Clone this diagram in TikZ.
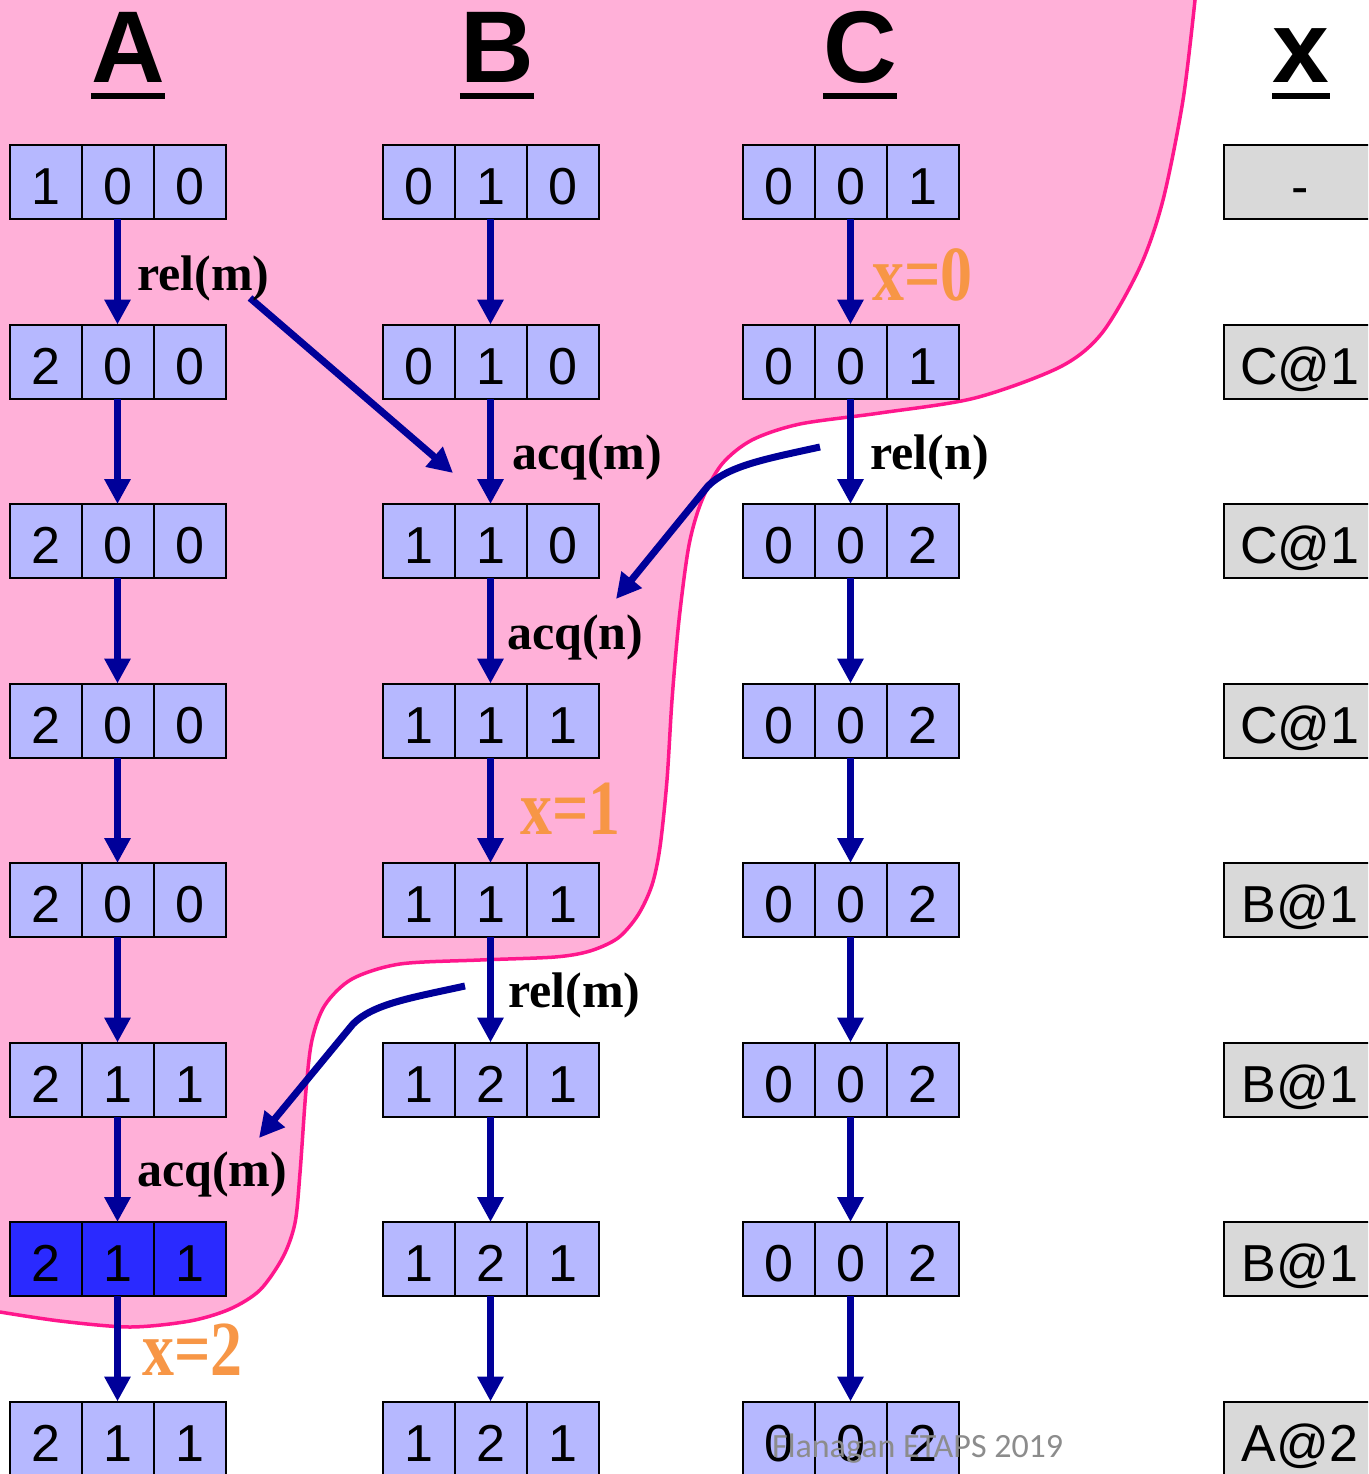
\documentclass[tikz,border=0pt]{standalone}
\usepackage{fontspec}
\setmainfont{Liberation Sans}
\newfontfamily\opfont{Liberation Serif}
\newfontfamily\markfont{Carlito}
\usetikzlibrary{arrows.meta}

\definecolor{cellfill}{RGB}{182,184,255}
\definecolor{cellhi}{RGB}{42,42,255}
\definecolor{varfill}{RGB}{217,217,217}
\definecolor{flowblue}{RGB}{0,0,153}
\definecolor{zonefill}{RGB}{255,176,216}
\definecolor{zoneline}{RGB}{255,22,140}
\definecolor{valorange}{RGB}{247,150,70}
\definecolor{markgray}{RGB}{140,140,140}

\tikzset{
  cell/.style={draw=black, line width=2pt, fill=cellfill, outer sep=0pt,
    minimum width=72pt, minimum height=74pt, inner sep=0pt,
    text height=45pt, text depth=0pt, font=\fontsize{52}{52}\selectfont},
  hicell/.style={fill=cellhi},
  varcell/.style={cell, fill=varfill, minimum width=152pt},
  flow/.style={draw=flowblue, line width=7pt, -{Triangle[width=25pt,length=25pt]}},
  hdr/.style={font=\fontsize{102}{102}\selectfont\bfseries, inner sep=0pt, anchor=base},
  uline/.style={line width=6pt},
  op/.style={font=\opfont\fontsize{50}{50}\selectfont\bfseries, inner sep=0pt, anchor=base west},
  val/.style={font=\opfont\fontsize{78}{78}\selectfont\bfseries, text=valorange, inner sep=0pt, anchor=base west},
  zone/.style={draw=zoneline, line width=3.5pt},
}

% one vector-clock state: three adjacent cells, the middle one carries the name
\newcommand\vstate[7][]{%
  \node[cell,#1] (#2) at (#3,#4) {#6};
  \node[cell,#1,anchor=east] (#2l) at (#2.west) {#5};
  \node[cell,#1,anchor=west] (#2r) at (#2.east) {#7};
}

\begin{document}
\begin{tikzpicture}[x=1pt,y=-1pt]
\clip (0,0) rectangle (1368,1474);

% shaded region
\fill[zonefill] (0,0) -- plot[smooth] coordinates {
  (1195,0) (1183,100) (1163,200) (1140,267) (1102,333) (1060,367) (975,398)
  (880,413) (800,424) (752,440) (722,464) (702,500) (689,545) (679,620)
  (672,700) (667,780) (660,847) (652,885) (638,915) (618,938) (590,951)
  (555,957) (480,960) (400,964) (352,979) (325,1005) (312,1040) (306,1090)
  (300,1173) (295,1223) (283,1257) (260,1290) (230,1309) (190,1321)
  (130,1327) (60,1321) (0,1312)} -- cycle;
\draw[zone] plot[smooth] coordinates {
  (1195,0) (1183,100) (1163,200) (1140,267) (1102,333) (1060,367) (975,398)
  (880,413) (800,424) (752,440) (722,464) (702,500) (689,545) (679,620)
  (672,700) (667,780) (660,847) (652,885) (638,915) (618,938) (590,951)
  (555,957) (480,960) (400,964) (352,979) (325,1005) (312,1040) (306,1090)
  (300,1173) (295,1223) (283,1257) (260,1290) (230,1309) (190,1321)
  (130,1327) (60,1321) (0,1312)};

% column headers
\node[hdr] (hA) at (128,83) {A};
\node[hdr] (hB) at (497,83) {B};
\node[hdr] (hC) at (860,83) {C};
\node[hdr] (hX) at (1301,83) {x};
\foreach \h in {hA,hB,hC,hX}
  \draw[uline] ([yshift=-13pt]\h.base west) -- ([yshift=-13pt]\h.base east);

% thread A
\vstate{a1}{117.5}{182}{1}{0}{0}
\vstate{a2}{117.5}{361.5}{2}{0}{0}
\vstate{a3}{117.5}{541}{2}{0}{0}
\vstate{a4}{117.5}{720.5}{2}{0}{0}
\vstate{a5}{117.5}{900}{2}{0}{0}
\vstate{a6}{117.5}{1079.5}{2}{1}{1}
\vstate[hicell]{a7}{117.5}{1259}{2}{1}{1}
\vstate{a8}{117.5}{1438.5}{2}{1}{1}

% thread B
\vstate{b1}{490.5}{182}{0}{1}{0}
\vstate{b2}{490.5}{361.5}{0}{1}{0}
\vstate{b3}{490.5}{541}{1}{1}{0}
\vstate{b4}{490.5}{720.5}{1}{1}{1}
\vstate{b5}{490.5}{900}{1}{1}{1}
\vstate{b6}{490.5}{1079.5}{1}{2}{1}
\vstate{b7}{490.5}{1259}{1}{2}{1}
\vstate{b8}{490.5}{1438.5}{1}{2}{1}

% thread C
\vstate{c1}{850.5}{182}{0}{0}{1}
\vstate{c2}{850.5}{361.5}{0}{0}{1}
\vstate{c3}{850.5}{541}{0}{0}{2}
\vstate{c4}{850.5}{720.5}{0}{0}{2}
\vstate{c5}{850.5}{900}{0}{0}{2}
\vstate{c6}{850.5}{1079.5}{0}{0}{2}
\vstate{c7}{850.5}{1259}{0}{0}{2}
\vstate{c8}{850.5}{1438.5}{0}{0}{2}

% variable x
\node[varcell] (x1) at (1300,182) {-};
\node[varcell] (x2) at (1300,361.5) {C@1};
\node[varcell] (x3) at (1300,541) {C@1};
\node[varcell] (x4) at (1300,720.5) {C@1};
\node[varcell] (x5) at (1300,900) {B@1};
\node[varcell] (x6) at (1300,1079.5) {B@1};
\node[varcell] (x7) at (1300,1259) {B@1};
\node[varcell] (x8) at (1300,1438.5) {A@2};

% program order
\foreach \th in {a,b,c}
  \foreach \from/\to in {1/2,2/3,3/4,4/5,5/6,6/7,7/8}
    \draw[flow] (\th\from.south) -- (\th\to.north);

% synchronisation edges
\coordinate (s1) at (250,298);
\coordinate (t1) at (453,473);
\draw[flow] (s1) -- (t1);

\coordinate (s2) at (820,447);
\coordinate (k2) at (708,486);
\coordinate (t2) at (616,599);
\draw[flow] (s2) .. controls (765,459) and (728,466) .. (k2) -- (t2);

\coordinate (s3) at (465,986);
\coordinate (k3) at (353,1024);
\coordinate (t3) at (259,1138);
\draw[flow] (s3) .. controls (410,998) and (373,1004) .. (k3) -- (t3);

% operation labels
\node[op] (l1) at (137,290) {rel(m)};
\node[op] (l2) at (512,469) {acq(m)};
\node[op] (l3) at (507,649) {acq(n)};
\node[op] (l4) at (870,469) {rel(n)};
\node[op] (l5) at (508,1007) {rel(m)};
\node[op] (l6) at (137,1186) {acq(m)};

% writes to x
\node[val] (w0) at (872,300) {\scalebox{0.82}[1]{x=0}};
\node[val] (w1) at (520,834) {\scalebox{0.82}[1]{x=1}};
\node[val] (w2) at (142,1375) {\scalebox{0.82}[1]{x=2}};

% footer
\node[font=\markfont\fontsize{34}{34}\selectfont, text=markgray, inner sep=0pt, anchor=base west] (foot) at (772,1457) {Flanagan ETAPS 2019};
\end{tikzpicture}
\end{document}
